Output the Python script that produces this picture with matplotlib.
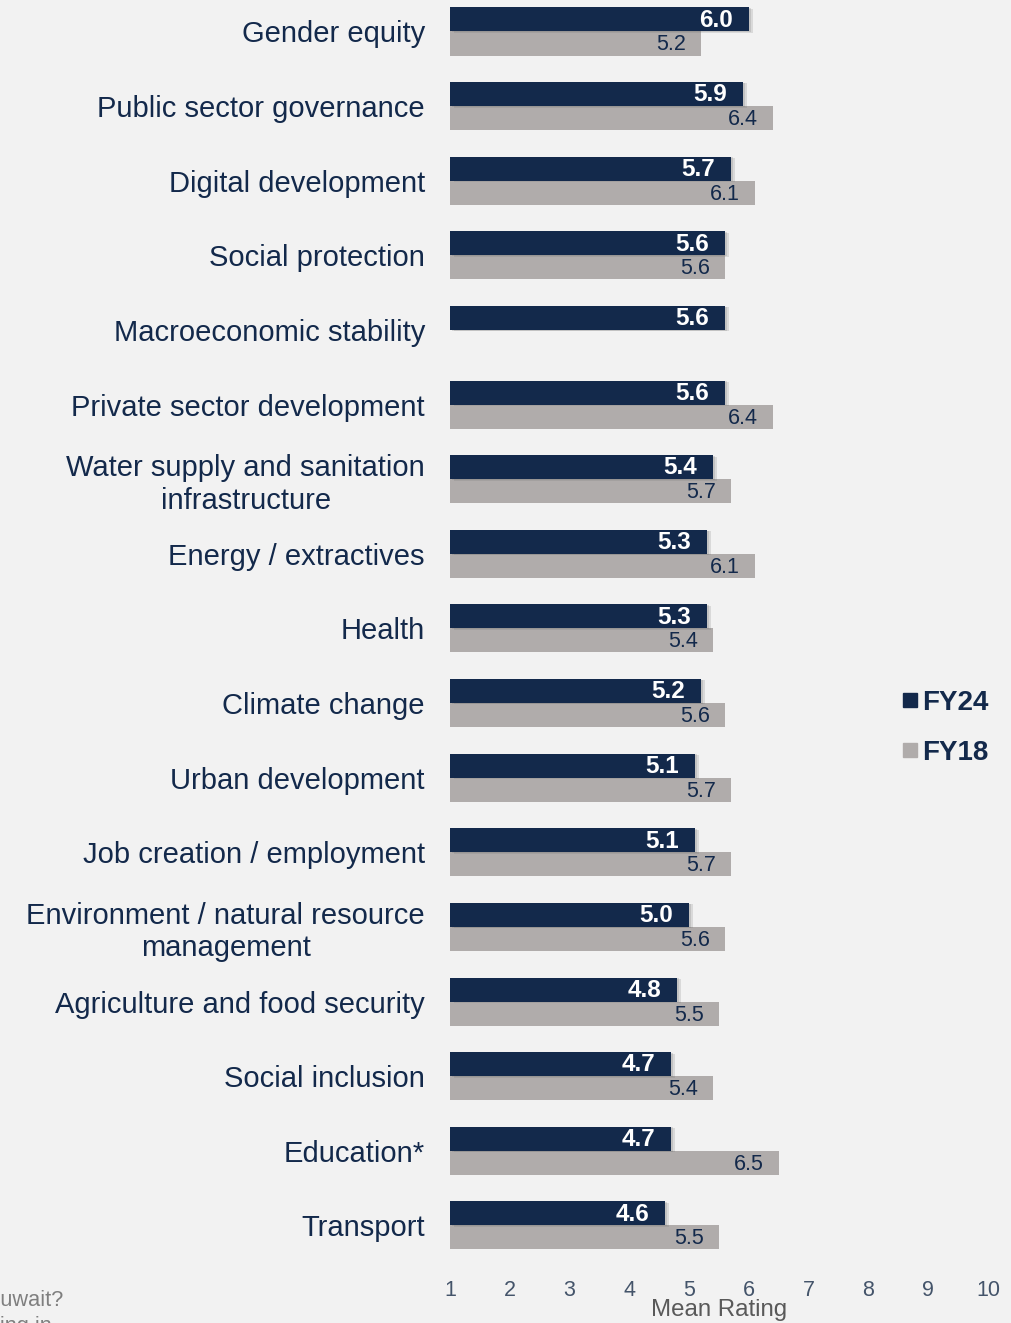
import matplotlib.pyplot as plt
import matplotlib.patheffects as pe
from matplotlib.lines import Line2D
import numpy as np

plt.rcParams['font.family'] = ['Liberation Sans', 'DejaVu Sans']

# Mean ratings, FY24 vs FY18 (Macroeconomic stability had no FY18 rating)
categories = [
    "Gender equity",
    "Public sector governance",
    "Digital development",
    "Social protection",
    "Macroeconomic stability",
    "Private sector development",
    "Water supply and sanitation\ninfrastructure",
    "Energy / extractives",
    "Health",
    "Climate change",
    "Urban development",
    "Job creation / employment",
    "Environment / natural resource\nmanagement",
    "Agriculture and food security",
    "Social inclusion",
    "Education*",
    "Transport",
]
fy24 = [6.0, 5.9, 5.7, 5.6, 5.6, 5.6, 5.4, 5.3, 5.3, 5.2, 5.1, 5.1, 5.0, 4.8, 4.7, 4.7, 4.6]
fy18 = [5.2, 6.4, 6.1, 5.6, np.nan, 6.4, 5.7, 6.1, 5.4, 5.6, 5.7, 5.7, 5.6, 5.5, 5.4, 6.5, 5.5]
xticks = [1, 2, 3, 4, 5, 6, 7, 8, 9, 10]

navy = '#13294b'
grey = '#b0acab'
bg = '#f2f2f2'

W, H = 1011, 1323
fig = plt.figure(figsize=(W / 100, H / 100), dpi=100, facecolor=bg)
ax = fig.add_axes([450 / W, 1 - 1265 / H, 538 / W, 1265 / H], facecolor=bg)

y = np.arange(len(categories))
bh = 0.322
base = 1.0

ax.barh(y + bh / 2, np.array(fy18) - base, left=base, height=bh, color=grey)
# soft drop shadow to the right of the FY24 bars
shadow = [pe.SimplePatchShadow(offset=(3, -1), shadow_rgbFace='#6a6a6a', alpha=0.18),
          pe.SimplePatchShadow(offset=(1.5, -0.5), shadow_rgbFace='#6a6a6a', alpha=0.2),
          pe.Normal()]
ax.barh(y - bh / 2, np.array(fy24) - base, left=base, height=bh, color=navy,
        path_effects=shadow)

for yi, v in zip(y, fy24):
    ax.text(v - 0.27, yi - bh / 2 + 0.01, f"{v:.1f}", ha='right', va='center',
            color='white', fontsize=17.5, fontweight='bold')
for yi, v in zip(y, fy18):
    if np.isnan(v):
        continue
    ax.text(v - 0.25, yi + bh / 2 + 0.02, f"{v:.1f}", ha='right', va='center',
            color=navy, fontsize=15.5)

ax.set_xlim(1, 10)
ax.set_ylim(16.53, -0.422)
ax.set_xticks(xticks)
ax.set_xticklabels([str(t) for t in xticks], fontsize=15.5, color='#44546a')
ax.set_yticks(y)
ax.set_yticklabels(categories, fontsize=21, color=navy, ha='right', multialignment='center')
ax.tick_params(axis='y', length=0, pad=18)
ax.tick_params(axis='x', length=0, pad=10.5)
ax.set_xlabel("Mean Rating", fontsize=17.3, color='#595959', labelpad=-1)
for s in ax.spines.values():
    s.set_visible(False)

handles = [Line2D([], [], marker='s', linestyle='', markersize=10, color=navy),
           Line2D([], [], marker='s', linestyle='', markersize=10, color=grey)]
leg = fig.legend(handles, ["FY24", "FY18"], loc='upper left',
                 bbox_to_anchor=(902 / W, 1 - 690 / H), frameon=False,
                 handlelength=0.6, handletextpad=0.12, labelspacing=0.85,
                 borderpad=0, borderaxespad=0,
                 prop={'size': 20, 'weight': 'bold'})
for t in leg.get_texts():
    t.set_color(navy)

# question text cut off at the left edge of the slide
fig.text(63 / W, 1 - 1301 / H, "in Kuwait?", ha='right', va='center',
         fontsize=15.7, color='#7f7f7f')
fig.text(52 / W, 1 - 1327 / H, "working in", ha='right', va='center',
         fontsize=15.7, color='#7f7f7f')

fig.savefig('out.png', dpi=100, facecolor=bg)
